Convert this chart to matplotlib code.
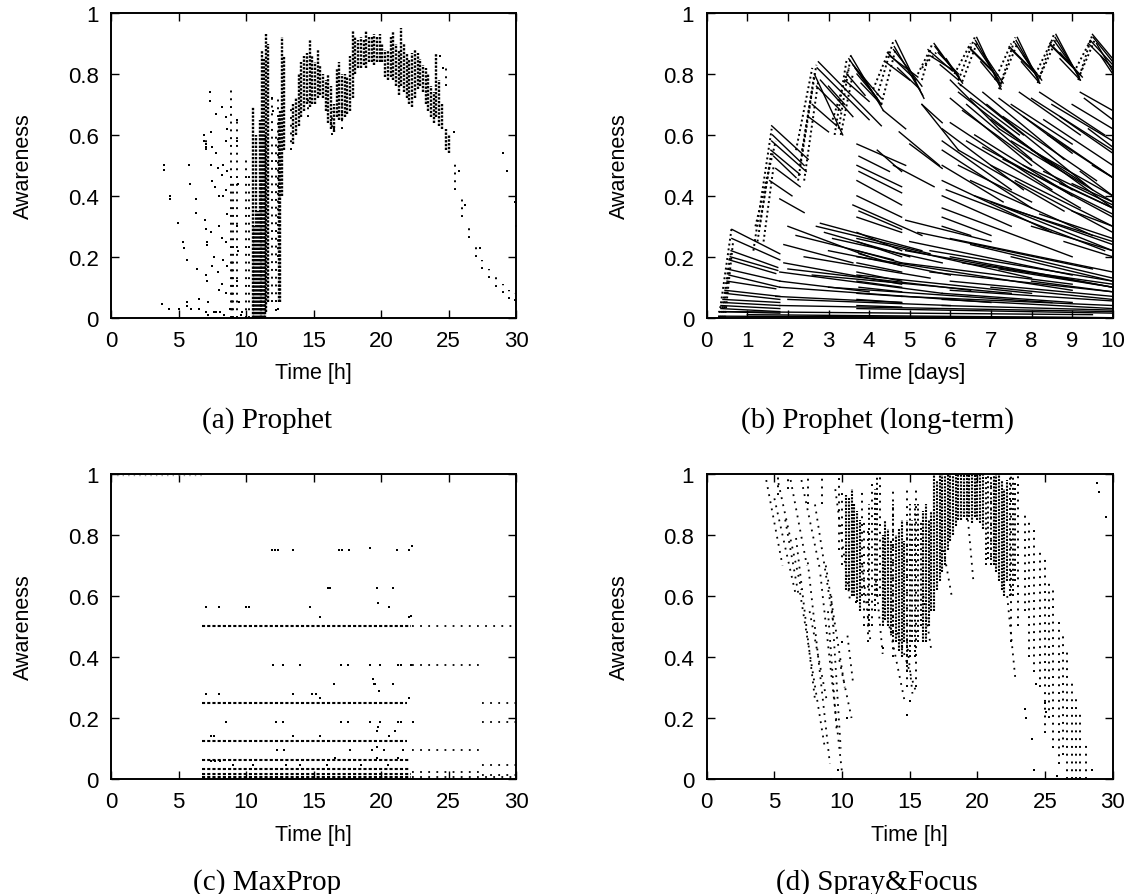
import matplotlib
matplotlib.use('Agg')
import matplotlib.pyplot as plt

plt.rcParams['font.family'] = ['Liberation Sans', 'DejaVu Sans']

# ---------------- (a) Prophet ----------------
# isolated points
a_pts_x = [3.9, 3.9, 4.4, 4.4, 4.95, 5.35, 5.4, 5.6, 5.8, 5.85, 6.3, 6.3, 6.4, 6.5,
           3.8, 4.3, 5.0, 5.6, 5.6, 5.9, 6.5, 6.9, 6.9, 7.0, 7.0, 6.95, 7.0, 7.1, 7.1,
           7.0, 7.1, 7.0, 7.2, 7.3, 7.3, 7.4, 7.5, 7.4, 7.5, 7.4, 7.6, 7.5, 7.8, 7.8,
           7.9, 7.7, 8.0, 8.0, 7.9, 8.0, 7.8, 8.2, 8.3, 8.2, 8.3, 8.2, 8.3, 8.2, 8.5,
           8.6, 8.5, 8.6, 8.5, 8.6, 8.5, 8.6, 8.5, 9.3, 9.3, 9.4, 9.3, 9.4, 9.3, 9.5,
           9.7, 8.1, 8.4, 7.6, 7.2, 8.8, 9.6, 25.4, 25.8, 26.2, 27.3, 29.0, 29.3, 29.9,
           30.0, 12.2, 12.4, 11.9, 12.0, 24.6, 24.4, 13.5, 16.3, 16.5]
a_pts_y = [0.50, 0.485, 0.40, 0.39, 0.31, 0.25, 0.23, 0.19, 0.50, 0.44, 0.39, 0.345, 0.16, 0.06,
           0.045, 0.03, 0.03, 0.04, 0.05, 0.03, 0.03, 0.60, 0.58, 0.57, 0.56, 0.32, 0.29, 0.25, 0.24,
           0.14, 0.12, 0.02, 0.01, 0.74, 0.71, 0.61, 0.56, 0.50, 0.45, 0.28, 0.20, 0.17, 0.67, 0.54,
           0.49, 0.43, 0.40, 0.30, 0.15, 0.09, 0.02, 0.69, 0.50, 0.47, 0.40, 0.26, 0.19, 0.11, 0.66,
           0.62, 0.58, 0.48, 0.42, 0.34, 0.25, 0.17, 0.08, 0.65, 0.58, 0.44, 0.30, 0.22, 0.12, 0.05,
           0.02, 0.02, 0.01, 0.02, 0.05, 0.03, 0.01, 0.61, 0.48, 0.37, 0.23, 0.54, 0.48, 0.38,
           0.30, 0.025, 0.03, 0.72, 0.68, 0.82, 0.86, 0.60, 0.64, 0.62]
# sparse columns of dots: time, lowest, highest awareness
a_sp_x = [8.85, 9.0, 9.3, 10.0, 10.25, 11.9, 12.2, 12.35, 24.8, 25.5, 26.0,
          26.5, 27.0, 27.5, 28.0, 28.5, 29.0, 29.5, 29.9, 7.0, 8.95, 13.3, 16.4, 17.1, 14.6]
a_sp_lo = [0.0, 0.0, 0.0, 0.0, 0.0, 0.05, 0.05, 0.20, 0.76, 0.42, 0.33,
           0.26, 0.20, 0.16, 0.13, 0.10, 0.08, 0.06, 0.055, 0.55, 0.0, 0.55, 0.60, 0.62, 0.66]
a_sp_hi = [0.75, 0.45, 0.65, 0.53, 0.47, 0.73, 0.60, 0.72, 0.82, 0.51, 0.40,
           0.31, 0.25, 0.19, 0.16, 0.14, 0.11, 0.09, 0.08, 0.60, 0.20, 0.70, 0.68, 0.70, 0.72]
# dense columns of dots
a_dn_x = [10.5, 10.6, 10.75, 10.9, 11.0, 11.1, 11.2, 11.3, 11.4, 11.5, 11.6, 12.45, 12.55, 12.65,
          12.8, 13.5, 13.7, 13.9, 14.1, 14.3, 14.5, 14.7, 14.9, 15.1, 15.3, 15.5, 15.7, 15.9,
          16.1, 16.3, 16.5, 16.7, 16.9, 17.1, 17.3, 17.5, 17.7, 17.9, 18.1, 18.3, 18.5,
          18.7, 18.9, 19.1, 19.3, 19.5, 19.7, 19.9, 20.1, 20.3, 20.5, 20.7, 20.9, 21.1,
          21.3, 21.5, 21.7, 21.9, 22.1, 22.3, 22.5, 22.7, 22.9, 23.1, 23.3, 23.5, 23.7,
          23.9, 24.1, 24.3, 24.5, 24.8, 25.0]
a_dn_lo = [0.0, 0.0, 0.0, 0.0, 0.0, 0.0, 0.0, 0.0, 0.0, 0.02, 0.05, 0.05, 0.05, 0.40,
           0.55, 0.57, 0.60, 0.63, 0.66, 0.68, 0.70, 0.69, 0.70, 0.70, 0.72, 0.73, 0.72, 0.68,
           0.64, 0.62, 0.61, 0.66, 0.65, 0.65, 0.66, 0.67, 0.68, 0.72, 0.80, 0.82, 0.82,
           0.83, 0.82, 0.84, 0.84, 0.83, 0.84, 0.84, 0.84, 0.79, 0.78, 0.79, 0.78, 0.76,
           0.73, 0.76, 0.74, 0.72, 0.70, 0.69, 0.72, 0.75, 0.76, 0.74, 0.70, 0.68, 0.66,
           0.64, 0.66, 0.63, 0.62, 0.55, 0.54]
a_dn_hi = [0.69, 0.30, 0.60, 0.35, 0.65, 0.45, 0.88, 0.85, 0.60, 0.93, 0.90, 0.66, 0.68, 0.92,
           0.86, 0.70, 0.72, 0.80, 0.84, 0.86, 0.87, 0.91, 0.86, 0.84, 0.88, 0.83, 0.80, 0.78,
           0.80, 0.76, 0.70, 0.82, 0.84, 0.80, 0.80, 0.79, 0.86, 0.94, 0.92, 0.91, 0.92,
           0.91, 0.94, 0.92, 0.92, 0.93, 0.92, 0.93, 0.90, 0.88, 0.88, 0.92, 0.94, 0.90,
           0.88, 0.95, 0.90, 0.87, 0.85, 0.87, 0.88, 0.87, 0.85, 0.83, 0.82, 0.80, 0.76,
           0.74, 0.87, 0.78, 0.70, 0.62, 0.60]

# ---------------- (b) Prophet (long-term) ----------------
# decaying lines: start day, start awareness, end day, end awareness
b_x0 = [0.62, 0.60, 0.55, 0.50, 0.50, 0.45, 0.40, 0.35, 0.30, 0.62, 0.58, 0.55, 0.45, 0.40, 0.35,
        1.60, 1.60, 1.65, 1.70, 1.55, 1.62, 1.58,
        2.75, 2.65, 2.70, 2.60, 2.50, 2.72, 2.80, 3.00,
        3.55, 3.60, 3.70, 3.45, 3.80, 3.50, 3.65, 3.40,
        4.65, 4.60, 4.50, 4.40, 4.62, 4.45, 4.70, 4.35, 5.30,
        5.60, 5.70, 5.50, 5.90, 5.62, 5.45, 5.75,
        6.65, 6.60, 6.50, 6.80, 6.62, 6.45, 6.75,
        7.65, 7.60, 7.50, 7.80, 7.62, 7.45, 7.75,
        8.60, 8.55, 8.50, 8.70, 8.58, 8.45, 8.70,
        9.50, 9.45, 9.60, 9.52, 9.40, 9.70,
        1.80, 2.00, 2.80, 2.90, 1.90, 1.90, 1.80, 1.80, 1.80, 1.70, 0.40, 1.00, 1.80,
        2.20, 3.00, 2.40, 2.00, 2.60, 3.00, 2.00, 0.30,
        3.70, 3.70, 3.70, 3.70, 3.60, 3.70, 3.70, 3.70, 3.70, 3.70, 3.70, 3.70, 3.70,
        3.70, 3.70, 3.70, 3.70, 3.70, 3.75, 3.75, 3.75, 3.75, 3.75, 3.70,
        4.74, 5.00, 4.60, 4.20, 4.80, 5.20, 4.90, 4.80,
        5.80, 5.80, 5.80, 5.80, 5.80, 5.80, 5.80, 5.80, 5.80, 5.80, 5.80, 5.80,
        6.00, 6.30, 6.50, 6.90, 7.00, 7.20, 7.50, 7.50, 8.00, 8.30, 8.00, 8.50, 9.00,
        9.30, 6.60, 6.20, 7.00, 7.60, 6.50, 7.00, 6.00, 6.50, 5.00, 4.90, 6.00, 8.00,
        9.00, 9.20, 8.80, 7.50, 5.50, 6.00, 7.00, 2.70, 3.10, 5.30, 6.20,
        6.00, 6.20, 6.40, 6.80, 7.20, 7.30, 7.70, 7.80, 8.20, 8.40, 8.70, 9.20, 9.40,
        6.00, 6.40, 6.80, 7.30, 7.80, 8.30, 8.70, 6.20, 5.90, 6.60, 7.40, 8.20, 9.00,
        9.50, 5.50, 6.30, 7.20, 6.00, 8.00]
b_y0 = [0.29, 0.22, 0.19, 0.16, 0.12, 0.09, 0.06, 0.04, 0.02, 0.26, 0.20, 0.14, 0.08, 0.05, 0.03,
        0.63, 0.58, 0.53, 0.49, 0.45, 0.60, 0.55,
        0.84, 0.80, 0.76, 0.70, 0.66, 0.82, 0.78, 0.76,
        0.86, 0.83, 0.80, 0.80, 0.77, 0.85, 0.82, 0.78,
        0.91, 0.88, 0.86, 0.84, 0.89, 0.87, 0.82, 0.68, 0.70,
        0.90, 0.87, 0.86, 0.85, 0.89, 0.88, 0.83,
        0.92, 0.90, 0.88, 0.87, 0.91, 0.89, 0.84,
        0.92, 0.90, 0.88, 0.86, 0.91, 0.89, 0.84,
        0.93, 0.91, 0.89, 0.87, 0.92, 0.90, 0.85,
        0.93, 0.91, 0.90, 0.92, 0.90, 0.86,
        0.39, 0.30, 0.31, 0.28, 0.24, 0.18, 0.15, 0.12, 0.10, 0.07, 0.02, 0.01, 0.04,
        0.27, 0.22, 0.20, 0.16, 0.14, 0.10, 0.06, 0.005,
        0.57, 0.50, 0.45, 0.40, 0.37, 0.33, 0.28, 0.25, 0.22, 0.18, 0.15, 0.12, 0.08,
        0.06, 0.04, 0.26, 0.20, 0.14, 0.48, 0.35, 0.21, 0.10, 0.53, 0.03,
        0.61, 0.57, 0.50, 0.55, 0.18, 0.28, 0.32, 0.07,
        0.62, 0.58, 0.55, 0.50, 0.45, 0.40, 0.36, 0.33, 0.30, 0.06, 0.08, 0.04,
        0.72, 0.68, 0.72, 0.70, 0.65, 0.62, 0.70, 0.58, 0.72, 0.65, 0.55, 0.70, 0.70,
        0.72, 0.60, 0.55, 0.50, 0.45, 0.45, 0.38, 0.26, 0.24, 0.25, 0.22, 0.20, 0.30,
        0.35, 0.48, 0.25, 0.20, 0.15, 0.12, 0.10, 0.30, 0.26, 0.70, 0.77,
        0.78, 0.74, 0.70, 0.74, 0.72, 0.66, 0.74, 0.66, 0.74, 0.60, 0.66, 0.74, 0.62,
        0.64, 0.58, 0.56, 0.52, 0.50, 0.48, 0.44, 0.50, 0.42, 0.40, 0.36, 0.34, 0.44,
        0.50, 0.22, 0.18, 0.16, 0.09, 0.12]
b_x1 = [1.80, 1.75, 1.70, 1.80, 1.70, 1.80, 1.80, 1.80, 1.80, 1.80, 1.75, 1.80, 1.80, 1.80, 1.80,
        2.50, 2.45, 2.20, 2.30, 2.10, 2.40, 2.30,
        4.30, 3.35, 3.30, 3.20, 3.00, 4.00, 3.60, 3.40,
        4.35, 4.30, 4.20, 3.90, 4.30, 4.30, 4.25, 4.00,
        5.35, 5.30, 5.20, 5.00, 5.32, 5.15, 5.25, 4.90, 5.80,
        6.25, 6.20, 6.10, 6.30, 6.22, 6.05, 6.20,
        7.25, 7.20, 7.10, 7.30, 7.22, 7.05, 7.25,
        8.20, 8.15, 8.10, 8.25, 8.18, 8.05, 8.20,
        9.20, 9.15, 9.10, 9.25, 9.18, 9.05, 9.20,
        10.0, 10.0, 10.0, 10.0, 10.0, 10.0,
        2.40, 4.00, 5.30, 5.00, 3.60, 4.80, 5.80, 4.00, 7.00, 4.80, 9.50, 10.0, 10.0,
        4.60, 6.00, 5.50, 6.50, 7.50, 8.50, 6.00, 10.0,
        4.90, 4.80, 4.80, 4.80, 5.30, 4.80, 4.80, 4.80, 4.80, 4.80, 4.80, 4.80, 4.80,
        4.80, 4.80, 8.00, 9.00, 8.00, 4.80, 4.80, 4.80, 4.80, 4.50, 10.0,
        5.73, 5.80, 5.60, 4.80, 9.00, 9.50, 7.00, 10.0,
        7.80, 7.50, 8.00, 7.30, 8.50, 7.50, 9.00, 7.00, 6.50, 10.0, 9.00, 10.0,
        8.00, 9.00, 7.70, 9.50, 10.0, 9.30, 9.00, 10.0, 10.0, 10.0, 10.0, 10.0, 10.0,
        10.0, 9.00, 8.80, 10.0, 10.0, 9.50, 10.0, 10.0, 10.0, 9.00, 10.0, 10.0, 10.0,
        10.0, 10.0, 10.0, 10.0, 10.0, 10.0, 10.0, 5.50, 5.80, 6.20, 7.80,
        7.20, 8.50, 8.00, 8.80, 9.00, 9.60, 9.20, 10.0, 9.80, 10.0, 10.0, 10.0, 10.0,
        8.50, 9.20, 10.0, 10.0, 10.0, 10.0, 10.0, 8.00, 9.80, 10.0, 10.0, 10.0, 10.0,
        10.0, 10.0, 10.0, 10.0, 10.0, 10.0]
b_y1 = [0.21, 0.165, 0.145, 0.12, 0.095, 0.07, 0.05, 0.03, 0.015, 0.19, 0.155, 0.10, 0.06, 0.04, 0.02,
        0.52, 0.48, 0.46, 0.43, 0.40, 0.50, 0.47,
        0.63, 0.60, 0.68, 0.63, 0.61, 0.65, 0.66, 0.70,
        0.68, 0.72, 0.72, 0.73, 0.70, 0.70, 0.71, 0.71,
        0.72, 0.76, 0.79, 0.78, 0.73, 0.78, 0.75, 0.62, 0.64,
        0.78, 0.80, 0.81, 0.77, 0.79, 0.81, 0.78,
        0.75, 0.78, 0.80, 0.77, 0.77, 0.81, 0.76,
        0.77, 0.79, 0.80, 0.78, 0.78, 0.81, 0.77,
        0.78, 0.80, 0.81, 0.79, 0.79, 0.82, 0.78,
        0.85, 0.83, 0.81, 0.84, 0.82, 0.80,
        0.345, 0.20, 0.22, 0.20, 0.18, 0.11, 0.08, 0.085, 0.05, 0.05, 0.01, 0.0, 0.02,
        0.19, 0.14, 0.13, 0.09, 0.08, 0.05, 0.04, 0.0,
        0.50, 0.43, 0.37, 0.33, 0.27, 0.28, 0.22, 0.20, 0.18, 0.15, 0.12, 0.10, 0.07,
        0.05, 0.035, 0.13, 0.09, 0.08, 0.41, 0.29, 0.17, 0.085, 0.48, 0.015,
        0.50, 0.49, 0.43, 0.48, 0.11, 0.16, 0.25, 0.04,
        0.42, 0.42, 0.36, 0.38, 0.28, 0.30, 0.20, 0.27, 0.27, 0.03, 0.05, 0.025,
        0.50, 0.42, 0.60, 0.42, 0.36, 0.44, 0.57, 0.38, 0.55, 0.50, 0.40, 0.58, 0.62,
        0.65, 0.40, 0.35, 0.30, 0.28, 0.27, 0.22, 0.15, 0.13, 0.14, 0.10, 0.10, 0.22,
        0.30, 0.40, 0.20, 0.12, 0.085, 0.07, 0.06, 0.21, 0.18, 0.55, 0.60,
        0.62, 0.50, 0.52, 0.52, 0.54, 0.45, 0.60, 0.46, 0.60, 0.46, 0.54, 0.68, 0.56,
        0.42, 0.36, 0.33, 0.34, 0.36, 0.37, 0.36, 0.38, 0.22, 0.24, 0.25, 0.26, 0.38,
        0.46, 0.12, 0.11, 0.10, 0.055, 0.085]
# rising fronts (dotted): trough day, trough awareness, peak day, peak awareness
b_rx0 = [0.30, 0.35, 0.40, 0.45, 1.15, 1.25, 1.30, 1.20, 1.40, 2.25, 2.30, 2.35, 2.20, 2.40,
         3.15, 3.25, 3.10, 3.30, 4.20, 4.30, 4.10, 5.30, 5.30, 5.20, 6.20, 6.25, 6.10,
         7.20, 7.25, 7.10, 8.15, 8.20, 8.10, 9.15, 9.20, 9.10]
b_ry0 = [0.00, 0.00, 0.00, 0.00, 0.22, 0.25, 0.30, 0.30, 0.25, 0.45, 0.50, 0.55, 0.55, 0.45,
         0.60, 0.62, 0.65, 0.60, 0.73, 0.70, 0.75, 0.78, 0.82, 0.80, 0.78, 0.76, 0.80,
         0.75, 0.77, 0.78, 0.77, 0.79, 0.80, 0.78, 0.80, 0.82]
b_rx1 = [0.62, 0.60, 0.55, 0.65, 1.60, 1.60, 1.55, 1.70, 1.65, 2.70, 2.65, 2.60, 2.60, 2.75,
         3.45, 3.55, 3.50, 3.60, 4.60, 4.65, 4.50, 5.55, 5.65, 5.50, 6.60, 6.65, 6.50,
         7.60, 7.65, 7.50, 8.55, 8.60, 8.50, 9.50, 9.55, 9.45]
b_ry1 = [0.30, 0.22, 0.16, 0.25, 0.62, 0.55, 0.50, 0.58, 0.50, 0.83, 0.80, 0.75, 0.82, 0.78,
         0.85, 0.86, 0.82, 0.80, 0.91, 0.88, 0.88, 0.90, 0.87, 0.88, 0.92, 0.90, 0.90,
         0.92, 0.90, 0.90, 0.93, 0.91, 0.91, 0.93, 0.91, 0.91]

# ---------------- (c) MaxProp ----------------
c_dense_y = [0.5, 0.25, 0.125, 0.0625, 0.03125, 0.0156, 0.0078, 0.0]
c_dense_x0 = [6.7, 6.7, 6.7, 6.7, 6.7, 6.7, 6.7, 6.7]
c_dense_x1 = [22.2, 21.9, 21.9, 22.1, 22.1, 22.2, 22.2, 22.2]
c_sparse_y = [0.5, 0.375, 0.25, 0.1875, 0.09375, 0.046875, 0.0234, 0.0117, 0.0059, 0.0]
c_sparse_x0 = [22.3, 22.3, 27.5, 27.5, 22.3, 27.5, 22.3, 27.5, 22.3, 22.3]
c_sparse_x1 = [30.0, 27.4, 30.0, 30.0, 27.4, 30.0, 27.4, 30.0, 30.0, 30.0]
c_top_x0, c_top_x1, c_top_y = 0.0, 6.8, 0.996
c_pts_x = [11.95, 12.16, 12.4, 13.5, 16.9, 17.1, 17.6, 19.15, 21.2, 22.05, 22.3,
           16.05, 16.25, 19.7, 20.85,
           7.0, 8.0, 10.0, 10.25, 14.75, 20.6, 19.8,
           15.45, 22.05, 22.2,
           12.0, 12.7, 14.0, 17.0, 17.55, 19.15, 19.9, 21.25, 21.5, 22.2,
           16.5, 20.85, 19.4, 19.45, 19.55, 19.85,
           7.0, 8.0, 13.5, 14.9, 15.2, 15.5, 22.05,
           8.5, 12.2, 12.75, 17.0, 17.55, 19.15, 19.9, 21.25, 21.5, 22.35,
           19.7, 21.05, 7.4, 7.6, 13.5, 15.45, 20.6, 19.75,
           12.3, 12.8, 17.7, 19.3, 20.2, 21.65, 19.7,
           16.6, 19.7, 21.25, 7.4, 7.7, 8.1, 12.95, 14.0, 9.0, 10.5, 16.0, 18.5, 20.5]
c_pts_y = [0.75, 0.75, 0.75, 0.75, 0.75, 0.75, 0.75, 0.756, 0.75, 0.75, 0.763,
           0.625, 0.625, 0.625, 0.625,
           0.5625, 0.5625, 0.5625, 0.5625, 0.5625, 0.5625, 0.578,
           0.53, 0.53, 0.535,
           0.375, 0.375, 0.375, 0.375, 0.375, 0.375, 0.375, 0.375, 0.375, 0.375,
           0.3125, 0.3125, 0.328, 0.3125, 0.31, 0.29,
           0.28, 0.28, 0.28, 0.28, 0.28, 0.265, 0.265,
           0.1875, 0.1875, 0.1875, 0.1875, 0.1875, 0.1875, 0.1875, 0.1875, 0.1875, 0.1875,
           0.156, 0.156, 0.14, 0.14, 0.14, 0.14, 0.14, 0.17,
           0.09375, 0.09375, 0.09375, 0.09375, 0.09375, 0.09375, 0.104,
           0.0703, 0.0703, 0.0703, 0.06, 0.06, 0.06, 0.047, 0.047, 0.047, 0.047, 0.047,
           0.047, 0.047]

# ---------------- (d) Spray&Focus ----------------
d_dn_x = [10.3, 10.5, 10.7, 10.9, 11.1, 11.3, 13.0, 13.2, 13.4, 13.6,
          14.0, 14.2, 14.4, 14.6, 16.0, 16.2, 16.4,
          16.6, 16.8, 17.0, 17.2, 17.4, 17.6, 17.8, 18.0, 18.2, 18.4, 18.6, 18.8, 19.0,
          19.2, 19.4, 19.6, 19.8, 20.0, 20.2, 20.4, 21.2, 21.4, 21.6,
          21.8, 22.0, 22.2]
d_dn_lo = [0.62, 0.62, 0.60, 0.60, 0.58, 0.55, 0.50, 0.52, 0.50, 0.48,
           0.45, 0.42, 0.40, 0.45, 0.45, 0.45, 0.50,
           0.55, 0.55, 0.62, 0.65, 0.68, 0.70, 0.75, 0.78, 0.80, 0.83, 0.85, 0.85, 0.86,
           0.85, 0.86, 0.84, 0.86, 0.85, 0.84, 0.82, 0.70, 0.68, 0.65,
           0.62, 0.60, 0.65]
d_dn_hi = [0.93, 0.92, 0.95, 0.90, 0.88, 0.85, 0.80, 0.85, 0.82, 0.78,
           0.80, 0.82, 0.85, 0.78, 0.88, 0.90, 0.85,
           0.88, 1.0, 0.98, 1.0, 1.0, 1.0, 1.0, 1.0, 1.0, 1.0, 1.0, 1.0, 1.0,
           1.0, 1.0, 1.0, 1.0, 1.0, 1.0, 1.0, 1.0, 1.0, 1.0,
           0.98, 0.95, 0.98]
# medium-density columns
d_md_x = [12.0, 12.4, 12.6, 13.8, 14.8, 15.0, 15.2, 15.4, 15.6, 15.8, 20.6, 20.8,
          21.0, 22.4, 22.6, 22.8]
d_md_lo = [0.50, 0.55, 0.60, 0.45, 0.35, 0.40, 0.45, 0.40, 0.45, 0.50, 0.70, 0.72,
           0.70, 0.60, 0.60, 0.65]
d_md_hi = [0.90, 0.95, 1.0, 0.90, 0.85, 0.90, 0.85, 0.90, 0.90, 0.85, 1.0, 1.0,
           1.0, 1.0, 1.0, 0.98]
d_sp_x = [11.6, 11.9, 12.2, 12.8, 13.8, 14.8, 15.5, 21.0, 22.5, 23.0, 23.5, 23.8, 24.2,
          24.6, 25.0, 25.3, 25.6, 26.0, 26.3, 26.6, 27.0, 27.3, 27.6, 28.0, 9.8, 10.0, 8.5,
          7.5, 6.0, 5.3, 11.5]
d_sp_lo = [0.50, 0.45, 0.50, 0.60, 0.40, 0.30, 0.30, 0.70, 0.45, 0.50, 0.55, 0.40, 0.35,
           0.30, 0.15, 0.20, 0.10, 0.05, 0.08, 0.0, 0.0, 0.0, 0.0, 0.0, 0.75, 0.70, 0.90,
           0.90, 0.95, 0.93, 0.60]
d_sp_hi = [0.85, 0.82, 0.98, 1.0, 0.95, 0.95, 0.95, 1.0, 1.0, 1.0, 0.88, 0.85, 0.82,
           0.75, 0.72, 0.65, 0.62, 0.52, 0.48, 0.42, 0.32, 0.28, 0.22, 0.12, 1.0, 0.95, 1.0,
           1.0, 1.0, 1.0, 0.95]
d_x0 = [4.4, 5.0, 5.3, 6.6, 7.0, 7.47, 6.9, 8.0, 8.4, 8.96, 9.8, 10.4, 9.5, 11.5, 13.5,
        14.1, 14.8, 12.5, 16.0, 22.2, 17.5, 19.3, 5.8, 6.2, 7.6, 8.8, 9.2]
d_y0 = [0.98, 0.92, 0.97, 0.79, 0.98, 0.71, 0.61, 0.90, 0.67, 0.55, 0.39, 0.47, 0.95, 0.70, 0.50,
        0.48, 0.45, 0.65, 0.60, 0.60, 0.75, 0.85, 0.85, 0.98, 0.55, 0.70, 0.60]
d_x1 = [5.6, 6.6, 7.0, 8.0, 8.4, 9.1, 8.7, 9.4, 10.0, 9.6, 10.7, 10.8, 10.6, 12.1, 14.6,
        15.5, 15.2, 13.0, 16.6, 22.8, 18.1, 19.7, 6.8, 7.4, 8.9, 10.2, 9.9]
d_y1 = [0.70, 0.60, 0.62, 0.26, 0.68, 0.05, 0.11, 0.50, 0.02, 0.16, 0.20, 0.32, 0.58, 0.45, 0.26,
        0.28, 0.28, 0.41, 0.42, 0.33, 0.60, 0.65, 0.60, 0.70, 0.25, 0.30, 0.10]
d_pts_x = [28.8, 29.0, 29.5, 24.2, 28.5, 25.9, 23.5, 23.6, 24.0, 24.3, 25.0, 25.1, 14.8,
           15.0, 11.0, 10.4, 13.0, 10.0, 9.2, 9.7]
d_pts_y = [0.97, 0.94, 0.86, 0.03, 0.03, 0.01, 0.23, 0.20, 0.13, 0.31, 0.25, 0.22, 0.21,
           0.255, 0.58, 0.20, 0.43, 0.45, 0.0, 0.03]

DENSE = (0, (1, 0.6))
MEDIUM = (0, (1, 1.6))
SPARSE = (0, (1, 3.0))


def style_axes(ax, xmax, xlabel, caption, cap_x):
    ax.set_xlim(0, xmax)
    ax.set_ylim(0, 1)
    ax.set_yticks([0, 0.2, 0.4, 0.6, 0.8, 1])
    ax.set_yticklabels(['0', '0.2', '0.4', '0.6', '0.8', '1'])
    ax.tick_params(direction='in', length=6, width=1.0, top=True, right=True,
                   labelsize=16, pad=9)
    for s in ax.spines.values():
        s.set_linewidth(1.4)
        s.set_zorder(5)
    ax.set_xlabel(xlabel, fontsize=15.5, labelpad=8)
    ax.set_ylabel('Awareness', fontsize=15.5, labelpad=24)
    ax.text(cap_x, -0.335, caption, transform=ax.transAxes, ha='center', va='center',
            fontsize=21, family=['Liberation Serif', 'DejaVu Serif'])


def columns(ax, xs, lo, hi, ls, lw):
    for x, a, b in zip(xs, lo, hi):
        ax.plot([x, x], [a, b], color='black', lw=lw, linestyle=ls,
                solid_capstyle='butt', dash_capstyle='butt')


def segments(ax, x0, y0, x1, y1, ls, lw):
    for a, b, c, d in zip(x0, y0, x1, y1):
        ax.plot([a, c], [b, d], color='black', lw=lw, linestyle=ls,
                dash_capstyle='butt')


fig = plt.figure(figsize=(11.32, 8.95), dpi=100)
ax_a = fig.add_axes([0.0981, 0.6439, 0.3578, 0.3404])
ax_b = fig.add_axes([0.6243, 0.6439, 0.3587, 0.3404])
ax_c = fig.add_axes([0.0981, 0.1285, 0.3578, 0.3408])
ax_d = fig.add_axes([0.6243, 0.1285, 0.3587, 0.3408])

# (a)
columns(ax_a, a_dn_x, a_dn_lo, a_dn_hi, DENSE, 1.7)
columns(ax_a, a_sp_x, a_sp_lo, a_sp_hi, SPARSE, 1.4)
ax_a.plot(a_pts_x, a_pts_y, 's', color='black', ms=1.6, mew=0)
style_axes(ax_a, 30, 'Time [h]', '(a) Prophet', 0.385)

# (b)
segments(ax_b, b_x0, b_y0, b_x1, b_y1, '-', 1.0)
segments(ax_b, b_rx0, b_ry0, b_rx1, b_ry1, (0, (1, 1.5)), 1.4)
style_axes(ax_b, 10, 'Time [days]', '(b) Prophet (long-term)', 0.42)
ax_b.set_xticks(range(0, 11))

# (c)
for y, a, b in zip(c_dense_y, c_dense_x0, c_dense_x1):
    ax_c.plot([a, b], [y, y], color='black', lw=1.5, linestyle=(0, (1.5, 1.0)))
for y, a, b in zip(c_sparse_y, c_sparse_x0, c_sparse_x1):
    ax_c.plot([a, b], [y, y], color='black', lw=1.3, linestyle=(0, (1, 3.5)))
ax_c.plot([c_top_x0, c_top_x1], [c_top_y, c_top_y], color='#999999', lw=1.0,
          linestyle=(0, (1, 3)))
ax_c.plot(c_pts_x, c_pts_y, 's', color='black', ms=2.0, mew=0)
style_axes(ax_c, 30, 'Time [h]', '(c) MaxProp', 0.385)

# (d)
columns(ax_d, d_dn_x, d_dn_lo, d_dn_hi, DENSE, 1.5)
columns(ax_d, d_md_x, d_md_lo, d_md_hi, MEDIUM, 1.4)
columns(ax_d, d_sp_x, d_sp_lo, d_sp_hi, SPARSE, 1.4)
segments(ax_d, d_x0, d_y0, d_x1, d_y1, SPARSE, 1.3)
ax_d.plot(d_pts_x, d_pts_y, 's', color='black', ms=1.6, mew=0)
style_axes(ax_d, 30, 'Time [h]', '(d) Spray&Focus', 0.42)

fig.savefig('out.png', dpi=100, facecolor='white')
